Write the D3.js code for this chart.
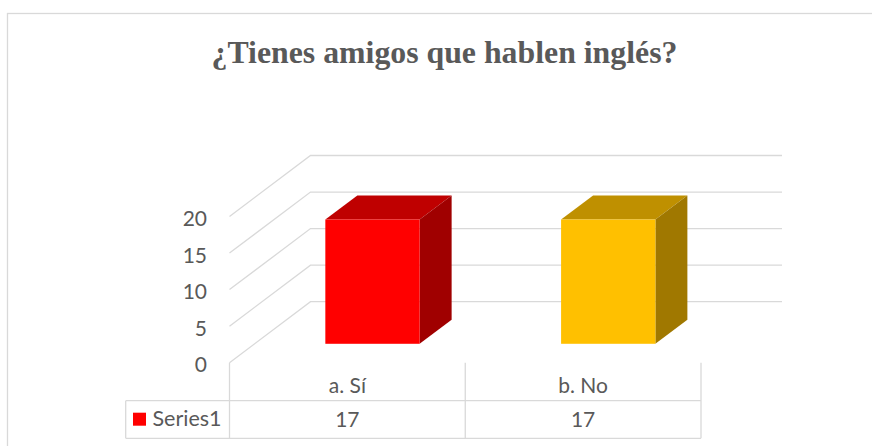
<!DOCTYPE html>
<html>
<head>
<meta charset="utf-8">
<script src="https://cdn.jsdelivr.net/npm/d3@7.9.0/dist/d3.min.js"></script>
<style>
  body { margin: 0; background: #fff; overflow: hidden; }
  svg { display: block; }
</style>
</head>
<body>
<svg id="chart" width="872" height="446"></svg>
<script>
// chart data
const title = '¿Tienes amigos que hablen inglés?';
const categories = ['a. Sí', 'b. No'];
const values = [17, 17];
const barColors = ['#ff0000', '#ffc000'];
const yTicks = [0, 5, 10, 15, 20];
const seriesName = 'Series1';

const svg = d3.select('#chart');
const textColor = '#595959';
const gridColor = '#d9d9d9';
const labelFont = 'Lato, "Open Sans", sans-serif';

// front edge of the floor, and the oblique shift to the back wall
const x0 = 229.5, x1 = 701;
const depthX = 81, depthY = -61;
// bars sit between these fractions of the depth
const barD0 = 0.31, barD1 = 0.705;

const x = d3.scaleBand()
  .domain(categories)
  .range([x0, x1])
  .paddingInner(0.6)
  .paddingOuter(0.3);

const y = d3.scaleLinear()
  .domain([0, 20])
  .range([362.7, 216.5]);

function project(px, py, d) {
  return [px + d * depthX, py + d * depthY];
}

function shade(c, f) {
  const rgb = d3.rgb(c);
  return d3.rgb(rgb.r * f, rgb.g * f, rgb.b * f).formatHex();
}

// outer chart frame
svg.append('rect')
  .attr('x', 7.5).attr('y', 13.5)
  .attr('width', 874).attr('height', 470)
  .attr('fill', 'none')
  .attr('stroke', gridColor)
  .attr('stroke-width', 1.3);

// title
svg.append('text')
  .attr('x', 444.5).attr('y', 63)
  .attr('text-anchor', 'middle')
  .attr('font-family', '"Liberation Serif", "Times New Roman", serif')
  .attr('font-weight', 'bold')
  .attr('font-size', 31.8)
  .attr('fill', textColor)
  .text(title);

// gridlines: side wall diagonal + back wall line
svg.append('g')
  .selectAll('path')
  .data(yTicks)
  .join('path')
  .attr('d', (t) => {
    const [bx, by] = project(x0, y(t), 1);
    return `M${x0},${y(t)}L${bx},${by}L${x1 + depthX},${by}`;
  })
  .attr('fill', 'none')
  .attr('stroke', gridColor)
  .attr('stroke-width', 1.3);

// y axis labels
svg.append('g')
  .selectAll('text')
  .data(yTicks)
  .join('text')
  .attr('x', 207)
  .attr('y', (t) => y(t) + 9.5)
  .attr('text-anchor', 'end')
  .attr('font-family', labelFont)
  .attr('font-size', 21)
  .attr('fill', textColor)
  .text((t) => t);

// 3d bars
const bars = svg.append('g')
  .selectAll('g')
  .data(categories.map((c, i) => ({ cat: c, value: values[i], color: barColors[i] })))
  .join('g');

bars.each(function (d) {
  const g = d3.select(this);
  const bx = x(d.cat), bw = x.bandwidth();
  const top = y(d.value), base = y(0);
  const ftl = project(bx, top, barD0), ftr = project(bx + bw, top, barD0);
  const fbr = project(bx + bw, base, barD0);
  const btl = project(bx, top, barD1), btr = project(bx + bw, top, barD1);
  const bbr = project(bx + bw, base, barD1);

  // top face
  g.append('polygon')
    .attr('points', [ftl, ftr, btr, btl].join(' '))
    .attr('fill', shade(d.color, 0.75));
  // side face
  g.append('polygon')
    .attr('points', [ftr, btr, bbr, fbr].join(' '))
    .attr('fill', shade(d.color, 0.627));
  // front face
  g.append('rect')
    .attr('x', ftl[0]).attr('y', ftl[1])
    .attr('width', bw).attr('height', base - top)
    .attr('fill', d.color);
});

// data table under the chart
const rowTop = 400.7, rowBottom = 438.3, tableLeft = 125.7;
const table = svg.append('g')
  .attr('stroke', gridColor)
  .attr('stroke-width', 1.3);

[rowTop, rowBottom].forEach((ry) => {
  table.append('line')
    .attr('x1', tableLeft).attr('x2', x1)
    .attr('y1', ry).attr('y2', ry);
});
table.append('line')
  .attr('x1', tableLeft).attr('x2', tableLeft)
  .attr('y1', rowTop).attr('y2', rowBottom);
d3.range(categories.length + 1).forEach((i) => {
  const lx = x0 + i * x.step();
  table.append('line')
    .attr('x1', lx).attr('x2', lx)
    .attr('y1', y(0)).attr('y2', rowBottom);
});

// category labels
svg.append('g')
  .selectAll('text')
  .data(categories)
  .join('text')
  .attr('x', (c) => x(c) + x.bandwidth() / 2)
  .attr('y', 393)
  .attr('text-anchor', 'middle')
  .attr('font-family', labelFont)
  .attr('font-size', 21)
  .attr('fill', textColor)
  .text((c) => c);

// value row
svg.append('g')
  .selectAll('text')
  .data(values)
  .join('text')
  .attr('x', (v, i) => x(categories[i]) + x.bandwidth() / 2)
  .attr('y', 427)
  .attr('text-anchor', 'middle')
  .attr('font-family', labelFont)
  .attr('font-size', 21)
  .attr('fill', textColor)
  .text((v) => v);

// legend key in the table
svg.append('rect')
  .attr('x', 133).attr('y', 412.7)
  .attr('width', 13).attr('height', 13)
  .attr('fill', barColors[0]);
svg.append('text')
  .attr('x', 152.5).attr('y', 426)
  .attr('font-family', labelFont)
  .attr('font-size', 21.5)
  .attr('fill', textColor)
  .text(seriesName);
</script>
</body>
</html>
